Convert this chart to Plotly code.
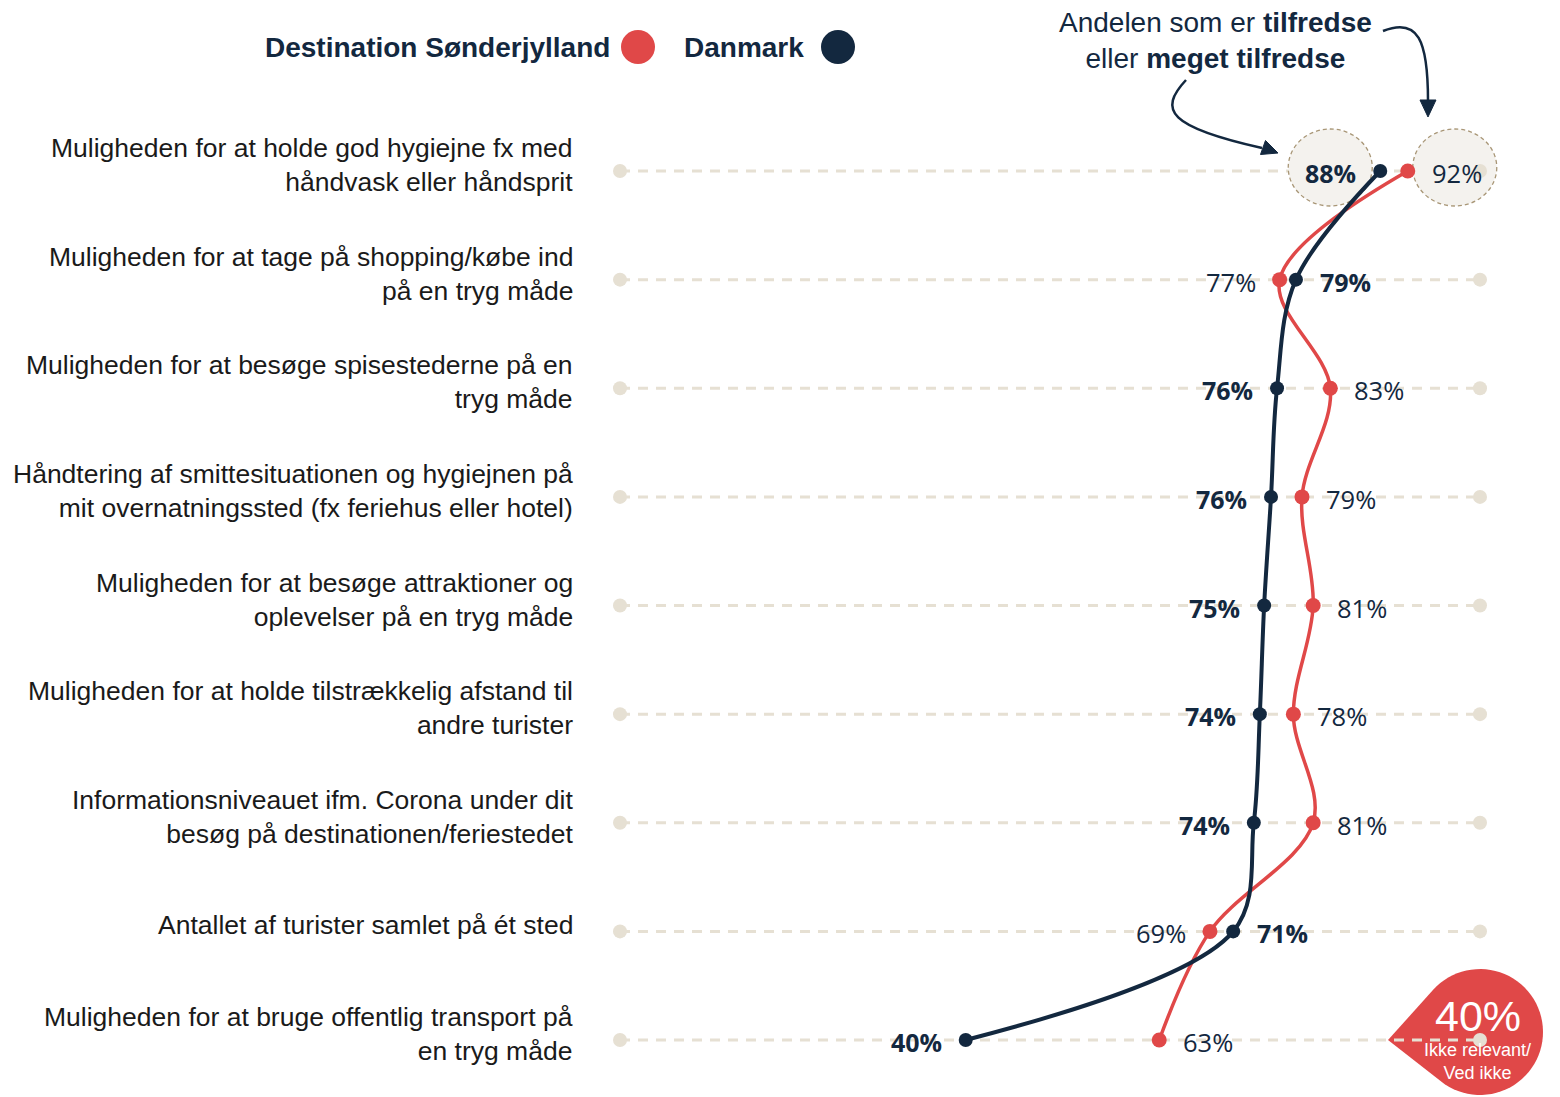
import math
import plotly.graph_objects as go

categories = [
    "Muligheden for at holde god hygiejne fx med<br>håndvask eller håndsprit",
    "Muligheden for at tage på shopping/købe ind<br>på en tryg måde",
    "Muligheden for at besøge spisestederne på en<br>tryg måde",
    "Håndtering af smittesituationen og hygiejnen på<br>mit overnatningssted (fx feriehus eller hotel)",
    "Muligheden for at besøge attraktioner og<br>oplevelser på en tryg måde",
    "Muligheden for at holde tilstrækkelig afstand til<br>andre turister",
    "Informationsniveauet ifm. Corona under dit<br>besøg på destinationen/feriestedet",
    "Antallet af turister samlet på ét sted",
    "Muligheden for at bruge offentlig transport på<br>en tryg måde",
]
danmark = [88.4, 78.6, 76.4, 75.7, 74.9, 74.4, 73.7, 71.3, 40.2]
sonderjylland = [91.6, 76.7, 82.6, 79.3, 80.6, 78.3, 80.6, 68.6, 62.7]
ikke_relevant = 40

NAVY = "#13283f"
RED = "#e04848"
GRID = "#e6e0d3"

# the page body has an 8px margin, so work in screen pixels and shift back
OFF = 8
W, H = 1560 - OFF, 1097 - OFF

# screen-pixel layout of the value axis and rows
X0_PX, PX_PER_PCT = 620, 8.6
ROW0_PX, ROW_STEP = 171, 108.625
rows = list(range(len(categories)))


def paper(px, py):
    return (px - OFF) / W, 1 - (py - OFF) / H


def path_from_px(points, close=True):
    parts = []
    for i, (px, py) in enumerate(points):
        x, y = paper(px, py)
        parts.append(("M" if i == 0 else "L") + f"{x:.5f},{y:.5f}")
    return " ".join(parts) + (" Z" if close else "")


def bezier_px(p0, c1, c2, p1):
    pts = [paper(*p) for p in (p0, c1, c2, p1)]
    return "M{:.5f},{:.5f} C{:.5f},{:.5f} {:.5f},{:.5f} {:.5f},{:.5f}".format(
        *[v for p in pts for v in p]
    )


fig = go.Figure()

shapes = []

# red "ikke relevant" bubble (drawn first so the gridline sits on top)
cx, cy, r = 1480, 1032, 63
tip = (1388, 1040)
dx, dy = tip[0] - cx, tip[1] - cy
dist = math.hypot(dx, dy)
base = math.atan2(dy, dx)
half = math.acos(r / dist)
a_start = base + half
a_end = base - half + 2 * math.pi
bubble = [tip]
for k in range(61):
    a = a_start + (a_end - a_start) * k / 60
    bubble.append((cx + r * math.cos(a), cy + r * math.sin(a)))
shapes.append(dict(type="path", xref="paper", yref="paper", path=path_from_px(bubble),
                   fillcolor=RED, line=dict(width=0), layer="below"))

# dashed gridlines
for i in rows:
    shapes.append(dict(type="line", xref="x", yref="y", x0=0, x1=100, y0=i, y1=i,
                       line=dict(color=GRID, width=3, dash="10px,8px"), layer="below"))

# dashed circles behind the first row labels
for anchor, off in [(danmark[0], -50), (sonderjylland[0], 47)]:
    shapes.append(dict(type="circle", xref="x", yref="y", xsizemode="pixel", ysizemode="pixel",
                       xanchor=anchor, yanchor=0, x0=off - 42, x1=off + 42, y0=-35, y1=42,
                       fillcolor="#f4f2ee", line=dict(color="#a89676", width=1.3, dash="4px,3px"),
                       layer="below"))

# legend dots
for xc, col in [(638, RED), (838, NAVY)]:
    x, y = paper(xc, 47)
    shapes.append(dict(type="circle", xref="paper", yref="paper", xsizemode="pixel",
                       ysizemode="pixel", xanchor=x, yanchor=y, x0=-17, x1=17, y0=-17, y1=17,
                       fillcolor=col, line=dict(width=0)))

# curved arrows from the note
shapes.append(dict(type="path", xref="paper", yref="paper",
                   path=bezier_px((1186, 80), (1158, 110), (1168, 127), (1262, 148)),
                   line=dict(color=NAVY, width=2.5)))
shapes.append(dict(type="path", xref="paper", yref="paper",
                   path=path_from_px([(1278, 153), (1260.5, 154.5), (1265.5, 140.5)]),
                   fillcolor=NAVY, line=dict(color=NAVY, width=1)))
shapes.append(dict(type="path", xref="paper", yref="paper",
                   path=bezier_px((1383, 31), (1418, 17), (1428, 40), (1428, 101)),
                   line=dict(color=NAVY, width=2.5)))
shapes.append(dict(type="path", xref="paper", yref="paper",
                   path=path_from_px([(1428, 117), (1420, 100), (1436, 100)]),
                   fillcolor=NAVY, line=dict(color=NAVY, width=1)))

# gridline end dots
fig.add_trace(go.Scatter(
    x=[0] * len(rows) + [100] * len(rows), y=rows + rows, mode="markers",
    marker=dict(color=GRID, size=14), hoverinfo="skip",
))

fig.add_trace(go.Scatter(
    x=sonderjylland, y=rows, mode="lines+markers",
    line=dict(color=RED, width=3.5, shape="spline", smoothing=1),
    marker=dict(color=RED, size=15), hoverinfo="skip",
))
fig.add_trace(go.Scatter(
    x=danmark, y=rows, mode="lines+markers",
    line=dict(color=NAVY, width=4, shape="spline", smoothing=1),
    marker=dict(color=NAVY, size=14), hoverinfo="skip",
))

annotations = []
lab_x, _ = paper(575, 0)
for i in rows:
    annotations.append(dict(
        x=lab_x, xref="paper", y=i, yref="y", text=categories[i], showarrow=False,
        xanchor="right", yanchor="middle", align="right", yshift=6,
        font=dict(family="Liberation Sans, Arial", size=26.5, color="#1a1a1a"),
    ))
    for val, other, bold in [(danmark[i], sonderjylland[i], True), (sonderjylland[i], danmark[i], False)]:
        left = val < other
        txt = f"{round(val)}%"
        annotations.append(dict(
            x=val, y=i, xref="x", yref="y", showarrow=False,
            text=f"<b>{txt}</b>" if bold else txt,
            xanchor="right" if left else "left", yanchor="middle",
            xshift=-22 if left else 22, yshift=-2,
            font=dict(family="Open Sans", size=25.5 if not bold else 25, color=NAVY),
        ))

lx, ly = paper(612, 47)
annotations.append(dict(x=lx, y=ly, xref="paper", yref="paper", showarrow=False,
                        text="<b>Destination Sønderjylland</b>", xanchor="right", yanchor="middle",
                        font=dict(family="Liberation Sans, Arial", size=28, color=NAVY)))
lx, ly = paper(806, 47)
annotations.append(dict(x=lx, y=ly, xref="paper", yref="paper", showarrow=False,
                        text="<b>Danmark</b>", xanchor="right", yanchor="middle",
                        font=dict(family="Liberation Sans, Arial", size=28, color=NAVY)))
nx, ny = paper(1215, 40)
annotations.append(dict(x=nx, y=ny, xref="paper", yref="paper", showarrow=False,
                        text="Andelen som er <b>tilfredse</b><br>eller <b>meget tilfredse</b>",
                        xanchor="center", yanchor="middle", align="center",
                        font=dict(family="Liberation Sans, Arial", size=28, color=NAVY)))
bx, by = paper(1478, 1016)
annotations.append(dict(x=bx, y=by, xref="paper", yref="paper", showarrow=False,
                        text=f"{ikke_relevant}%", xanchor="center", yanchor="middle",
                        font=dict(family="Liberation Sans, Arial", size=43, color="white")))
bx, by = paper(1477, 1061)
annotations.append(dict(x=bx, y=by, xref="paper", yref="paper", showarrow=False,
                        text="Ikke relevant/<br>Ved ikke", xanchor="center", yanchor="middle",
                        align="center",
                        font=dict(family="Liberation Sans, Arial", size=18, color="white")))

fig.update_layout(
    width=W, height=H,
    margin=dict(l=0, r=0, t=0, b=0, pad=0),
    paper_bgcolor="white", plot_bgcolor="white",
    showlegend=False, hovermode=False,
    shapes=shapes, annotations=annotations,
    xaxis=dict(range=[-(X0_PX - OFF) / PX_PER_PCT, (W + OFF - X0_PX) / PX_PER_PCT],
               visible=False, fixedrange=True),
    yaxis=dict(range=[(H + OFF - ROW0_PX) / ROW_STEP, -(ROW0_PX - OFF) / ROW_STEP],
               visible=False, fixedrange=True),
)

fig.write_html("out.html")
